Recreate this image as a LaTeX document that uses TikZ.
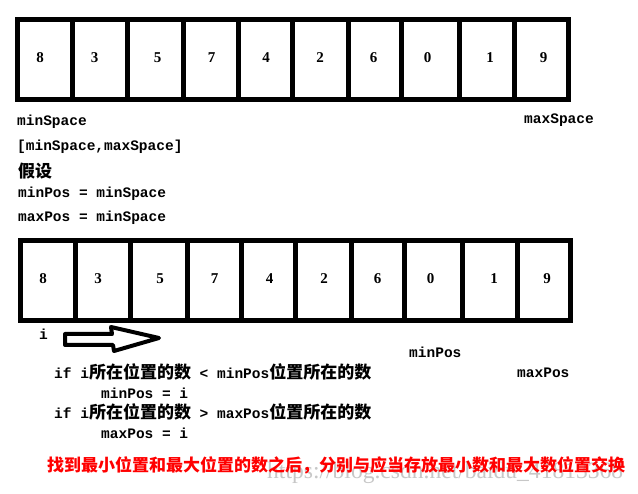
\documentclass[tikz,border=0pt]{standalone}
\usepackage{fontspec}
\setmonofont{Liberation Mono}
\newfontfamily\cjk{Noto Sans CJK SC}
\newfontfamily\digitfont{Liberation Serif}
\newfontfamily\wmfont{Liberation Serif}
\newcommand\monotxt{\ttfamily\bfseries\fontsize{14.5}{16}\selectfont}
\newcommand\zh[1]{{\cjk\fontsize{17}{18}\selectfont #1}}
\tikzset{
  cell/.style={draw=black, line width=5pt, inner sep=0pt, minimum height=80pt},
  num/.style={inner sep=0pt, font=\digitfont\bfseries\fontsize{15}{15}\selectfont},
  txt/.style={anchor=base west, inner sep=0pt, font=\monotxt},
  arrowshape/.style={draw=black, line width=4pt, line join=round, fill=white},
}
\begin{document}
\begin{tikzpicture}[x=1pt, y=-1pt]
\useasboundingbox[fill=white] (0,0) rectangle (638,494);

% top array
\foreach \i/\c/\w/\d/\nx in {1/45/55/8/40, 2/100/55/3/94.5, 3/155.5/56/5/157.5, 4/210.75/54.5/7/211.5, 5/265.25/54.5/4/266, 6/320.25/55.5/2/320, 7/374.5/53/6/373.5, 8/430/58/0/427.5, 9/486.75/55.5/1/490, 10/541.25/53.5/9/543.5}{
  \node[cell, minimum width=\w pt] (top\i) at (\c,59.5) {};
  \node[num] (tn\i) at (\nx,58) {\d};
}

% bottom array
\foreach \i/\c/\w/\d/\nx in {1/48/55/8/43, 2/103/55/3/98, 3/159/57/5/160, 4/214.25/53.5/7/214.5, 5/268.25/54.5/4/269.5, 6/323.25/55.5/2/324, 7/377.5/53/6/377.5, 8/433/58/0/430.5, 9/489.75/55.5/1/494, 10/544/53/9/547}{
  \node[cell, minimum width=\w pt] (bot\i) at (\c,280.5) {};
  \node[num] (bn\i) at (\nx,279) {\d};
}

% upper texts
\node[txt] (minspace) at (17,126) {minSpace};
\node[txt] (maxspace) at (524,124) {maxSpace};
\node[txt] (range) at (17,151) {[minSpace,maxSpace]};
\node[txt] (assume) at (18,178) {\zh{假设}};
\node[txt] (minposinit) at (18,198) {minPos = minSpace};
\node[txt] (maxposinit) at (18,222) {maxPos = minSpace};

% lower texts
\node[txt] (ilabel) at (39,340) {i};
\draw[arrowshape] (65,334) -- (112,334) -- (111,327) -- (159,338) -- (114,351) -- (113,345) -- (65,345) -- cycle;
\node[txt] (minposlbl) at (409,358) {minPos};
\node[txt] (maxposlbl) at (517,378) {maxPos};
\node[txt] (if1) at (54,379) {if i\zh{所在位置的数} < minPos\zh{位置所在的数}};
\node[txt] (set1) at (101,399) {minPos = i};
\node[txt] (if2) at (54,419) {if i\zh{所在位置的数} > maxPos\zh{位置所在的数}};
\node[txt] (set2) at (101,439) {maxPos = i};

% watermark
\node[anchor=base west, inner sep=0pt, text=black!22] (wm) at (267,479) {\resizebox{356pt}{!}{\wmfont\fontsize{17}{17}\selectfont https://blog.csdn.net/baidu\_41813368}};

% red note
\node[anchor=base west, inner sep=0pt, text=red] (note) at (47,472) {\cjk\bfseries\fontsize{17}{18}\selectfont 找到最小位置和最大位置的数之后，分别与应当存放最小数和最大数位置交换};
\end{tikzpicture}
\end{document}
